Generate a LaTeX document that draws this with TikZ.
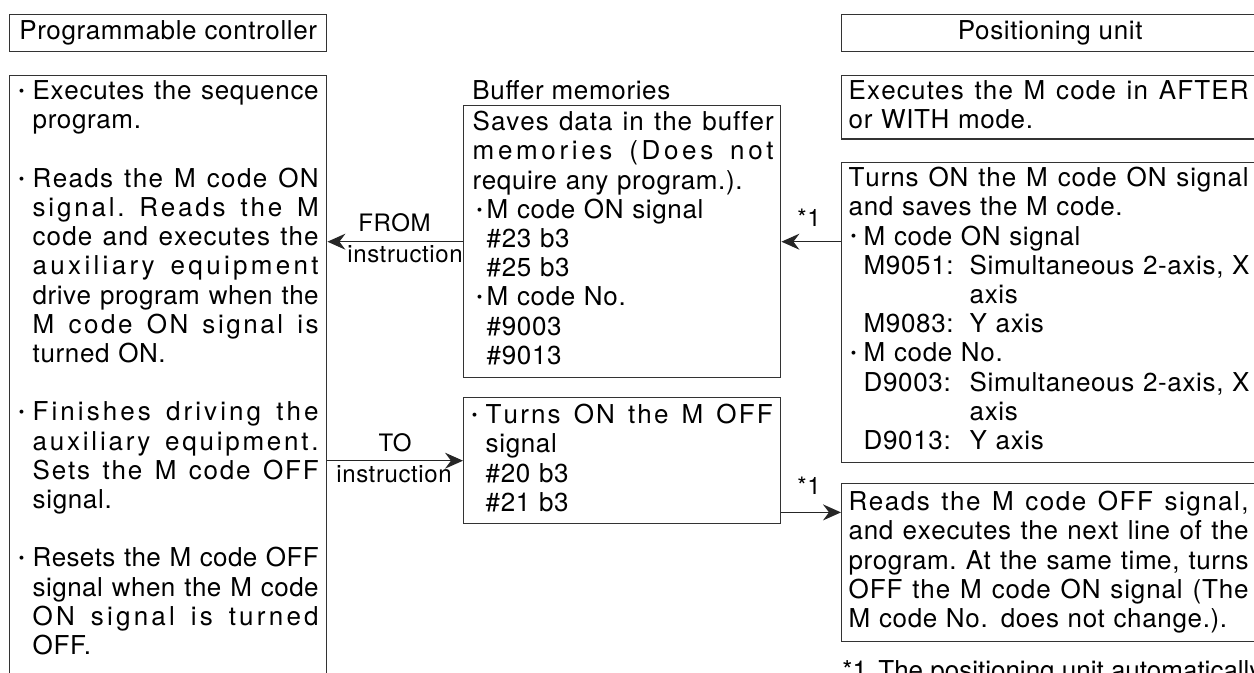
\documentclass[tikz,border=0pt]{standalone}
\usepackage{fontspec}
\setmainfont{TeX Gyre Heros}[LetterSpace=2.5]
\usepackage{tikz}
\usetikzlibrary{arrows.meta,positioning}
\newlength{\jwid}
\newlength{\lind}
\ExplSyntaxOn
\bool_new:N \l__jl_first_bool
\NewDocumentCommand{\sprd}{m}
 {
  \seq_set_split:Nnn \l_tmpa_seq { ~ } { #1 }
  \seq_map_indexed_inline:Nn \l_tmpa_seq
   {
    \int_compare:nNnT { ##1 } > { 1 } { \hskip 0.3em plus 2.5fil minus 0.1em \relax }
    \bool_set_true:N \l__jl_first_bool
    \tl_map_inline:nn { ##2 }
     {
      \bool_if:NTF \l__jl_first_bool
       { \bool_set_false:N \l__jl_first_bool }
       { \hskip 0pt plus 1fil \relax }
      ####1
     }
   }
 }
\ExplSyntaxOff
\newcommand{\bul}[1]{\llap{\raisebox{0.12em}{\scalebox{0.6}{\textbullet}}\hspace{#1}}}
\newcommand{\jln}[1]{\hspace*{\lind}\makebox[\jwid][s]{\sprd{#1}}}
\newcommand{\pln}[1]{\hspace*{\lind}#1}
\newcommand{\bjln}[1]{\hspace*{\lind}\bul{4.2pt}\makebox[\jwid][s]{\sprd{#1}}}

\begin{document}
\begin{tikzpicture}[
  x=0.5pt, y=-0.5pt,
  box/.style={draw=black!80, line width=0.7pt, inner sep=0pt, anchor=north west,
              align=left, font=\fontsize{13}{14.6}\selectfont},
  hbox/.style={draw=black!80, line width=0.7pt, inner sep=0pt, anchor=north west,
               minimum height=18.5pt, font=\fontsize{13}{14.6}\selectfont},
  txt/.style 2 args={execute at begin node={\setlength{\lind}{#1}\setlength{\jwid}{#2}}},
  lbl/.style={anchor=base, inner sep=0pt, font=\fontsize{12}{14}\selectfont},
  plain/.style={anchor=base west, inner sep=0pt, font=\fontsize{13}{14.6}\selectfont},
  arr/.style={-{Stealth[length=9pt,width=8pt,inset=3pt]}, line width=0.65pt, black!85}
]
\useasboundingbox (0,0) rectangle (1254,673);
\node[hbox, minimum width=158.5pt] (plchd)  at (9,14)   {Programmable controller};
\node[hbox, minimum width=208.5pt] (unithd) at (841,14) {Positioning unit};

\node[box, text width=158.5pt, txt={11.5pt}{143pt}] (plc) at (9,75) {%
\rule{0pt}{12pt}\bjln{Executes the sequence}\\
\pln{program.}\\[\baselineskip]
\bjln{Reads the M code ON}\\
\jln{signal. Reads the M}\\
\jln{code and executes the}\\
\jln{auxiliary equipment}\\
\jln{drive program when the}\\
\jln{M code ON signal is}\\
\pln{turned ON.}\\[\baselineskip]
\bjln{Finishes driving the}\\
\jln{auxiliary equipment.}\\
\jln{Sets the M code OFF}\\
\pln{signal.}\\[\baselineskip]
\bjln{Resets the M code OFF}\\
\jln{signal when the M code}\\
\jln{ON signal is turned}\\
\pln{OFF.\rule[-20pt]{0pt}{0pt}}};

\node[plain] (buflbl) at (472,100) {Buffer memories};
\node[box, text width=158.5pt, txt={4.5pt}{150.5pt}] (buf) at (463,105) {%
\rule{0pt}{12.5pt}\jln{Saves data in the buffer}\\
\jln{memories (Does not}\\
\pln{require any program.).}\\
\pln{\hspace*{7pt}\bul{2.2pt}M code ON signal}\\
\pln{\hspace*{7pt}\#23 b3}\\
\pln{\hspace*{7pt}\#25 b3}\\
\pln{\hspace*{7pt}\bul{2.2pt}M code No.}\\
\pln{\hspace*{7pt}\#9003}\\
\pln{\hspace*{7pt}\#9013\rule[-6.7pt]{0pt}{0pt}}};

\node[box, text width=158.5pt, txt={11pt}{143.5pt}] (offbuf) at (463,397) {%
\rule{0pt}{13pt}\bjln{Turns ON the M OFF}\\
\pln{signal}\\
\pln{\#20 b3}\\
\pln{\#21 b3\rule[-6.2pt]{0pt}{0pt}}};

\node[box, text width=208.5pt, txt={3.5pt}{200pt}] (exec) at (841,75) {%
\rule{0pt}{12pt}\jln{Executes the M code in AFTER}\\
\pln{or WITH mode.\rule[-5pt]{0pt}{0pt}}};

\node[box, text width=208.5pt, txt={3.5pt}{200pt}] (turnon) at (841,162) {%
\rule{0pt}{12pt}\jln{Turns ON the M code ON signal}\\
\pln{and saves the M code.}\\
\pln{\hspace*{7.5pt}\bul{3.7pt}M code ON signal}\\
\pln{\hspace*{7.5pt}\makebox[53pt][l]{M9051:}\makebox[139.5pt][s]{Simultaneous 2-axis, X}}\\
\pln{\hspace*{60.5pt}axis}\\
\pln{\hspace*{7.5pt}\makebox[53pt][l]{M9083:}Y axis}\\
\pln{\hspace*{7.5pt}\bul{3.7pt}M code No.}\\
\pln{\hspace*{7.5pt}\makebox[53pt][l]{D9003:}\makebox[139.5pt][s]{Simultaneous 2-axis, X}}\\
\pln{\hspace*{60.5pt}axis}\\
\pln{\hspace*{7.5pt}\makebox[53pt][l]{D9013:}Y axis\rule[-6.5pt]{0pt}{0pt}}};

\node[box, text width=208.5pt, txt={3.5pt}{200pt}] (reads) at (841,483) {%
\rule{0pt}{13.5pt}\jln{Reads the M code OFF signal,}\\
\jln{and executes the next line of the}\\
\jln{program. At the same time, turns}\\
\jln{OFF the M code ON signal (The}\\
\pln{M code No. does not change.).\rule[-7pt]{0pt}{0pt}}};

\node[plain] (fnote) at (842,679) {\addfontfeatures{LetterSpace=0}*1\hspace{5.7pt}The positioning unit automatically};

\coordinate (offout) at ([yshift=6pt]offbuf.south east);
\draw[arr] (buf.west)--(buf.west -| plc.east);
\draw[arr] (buf.east -| turnon.west)--(buf.east);
\draw[arr] (offbuf.west -| plc.east)--(offbuf.west);
\draw[arr] (offout)--(offout -| reads.west);
\node[lbl] (fromlbl)  at (394.5,232) {FROM};
\node[lbl] (fromins)  at (405,263)   {instruction};
\node[lbl] (tolbl)    at (395,452)   {TO};
\node[lbl] (toins)    at (394,483)   {instruction};
\node[lbl] (stara)    at (809,227)   {*1};
\node[lbl] (starb)    at (809,495)   {*1};
\end{tikzpicture}
\end{document}
